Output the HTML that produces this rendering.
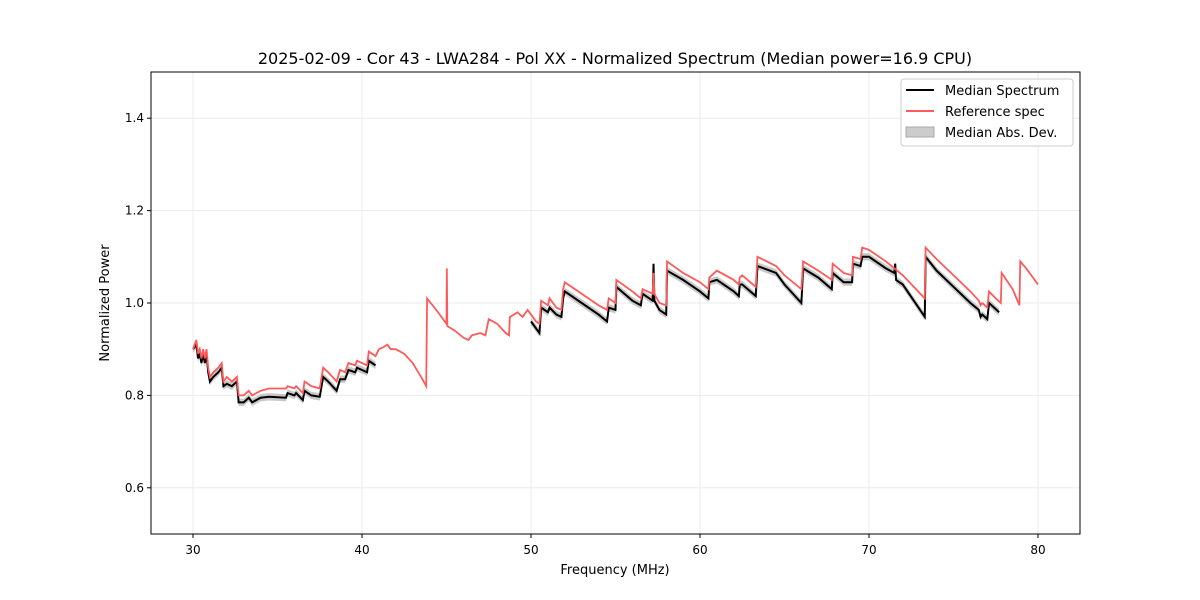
<!DOCTYPE html>
<html><head><meta charset="utf-8"><style>
body{margin:0;background:#fff;}
svg{display:block;font-family:"DejaVu Sans","Liberation Sans",sans-serif;}
</style></head><body>
<svg id="chart" width="1200" height="600">
<rect width="1200" height="600" fill="#fff"/>
<text x="615" y="64" text-anchor="middle" font-size="16">2025-02-09 - Cor 43 - LWA284 - Pol XX - Normalized Spectrum (Median power=16.9 CPU)</text>
<g id="grid"></g><g id="band"></g><g id="lines"></g><g id="ticks"></g>
<rect x="151" y="72" width="929" height="462" fill="none" stroke="#000" stroke-width="1"/>
<text x="615" y="574" text-anchor="middle" font-size="13">Frequency (MHz)</text>
<text transform="translate(109,303) rotate(-90)" text-anchor="middle" font-size="13">Normalized Power</text>
<g>
<rect x="901" y="79" width="172" height="67" rx="3" fill="#fff" stroke="#ccc"/>
<line x1="906" y1="90" x2="934" y2="90" stroke="#000" stroke-width="2"/>
<text x="945" y="95" font-size="13">Median Spectrum</text>
<line x1="906" y1="111" x2="934" y2="111" stroke="#ff5a5a" stroke-width="2"/>
<text x="945" y="116" font-size="13">Reference spec</text>
<rect x="906" y="127" width="28" height="10" fill="#ccc" stroke="#aaa"/>
<text x="945" y="137" font-size="13">Median Abs. Dev.</text>
</g>
</svg>
<script>
const xTicks=[30,40,50,60,70,80];
const yTicks=[0.6,0.8,1.0,1.2,1.4];
const refFreq=[30.0,30.2,30.3,30.4,30.5,30.6,30.7,30.8,30.9,31.0,31.2,31.5,31.7,31.8,32.0,32.3,32.6,32.7,33.0,33.3,33.5,34.0,34.5,35.5,35.6,36.0,36.1,36.5,36.6,37.0,37.5,37.7,38.0,38.5,38.7,39.0,39.2,39.6,39.7,40.0,40.3,40.4,40.8,41.0,41.3,41.5,41.7,42.0,42.5,43.0,43.5,43.8,43.85,44.5,45.0,45.02,45.05,45.5,46.0,46.3,46.5,47.0,47.3,47.5,48.0,48.5,48.7,48.75,49.0,49.2,49.5,49.8,50.0,50.3,50.5,50.6,51.0,51.1,51.5,51.8,51.9,52.0,53.0,54.0,54.5,54.6,55.0,55.05,56.0,56.5,56.6,57.2,57.25,57.3,57.6,58.0,58.05,59.0,60.0,60.5,60.55,61.0,62.0,62.3,62.35,62.5,63.3,63.4,64.5,65.0,66.0,66.1,67.0,67.8,67.85,68.5,69.0,69.05,69.5,69.6,70.0,71.0,72.0,73.3,73.35,74.0,75.0,76.0,76.5,76.6,76.7,77.0,77.1,77.5,77.8,77.85,78.5,78.9,78.95,79.3,80.0];
const refVal=[0.90,0.92,0.89,0.90,0.88,0.90,0.88,0.90,0.86,0.84,0.85,0.86,0.87,0.83,0.84,0.83,0.84,0.80,0.80,0.81,0.80,0.81,0.815,0.815,0.82,0.815,0.82,0.805,0.83,0.82,0.815,0.86,0.85,0.83,0.855,0.85,0.87,0.865,0.875,0.87,0.865,0.895,0.885,0.90,0.905,0.91,0.90,0.90,0.89,0.87,0.84,0.82,1.01,0.98,0.955,1.075,0.95,0.94,0.925,0.92,0.93,0.935,0.93,0.965,0.955,0.935,0.93,0.97,0.975,0.98,0.97,0.985,0.975,0.96,0.955,1.005,0.995,1.01,0.99,0.985,1.03,1.045,1.02,0.995,0.985,1.01,1.0,1.05,1.025,1.01,1.03,1.02,1.065,1.02,1.0,0.995,1.09,1.065,1.045,1.03,1.055,1.07,1.05,1.04,1.055,1.06,1.035,1.10,1.08,1.06,1.03,1.09,1.07,1.05,1.085,1.065,1.06,1.10,1.095,1.12,1.115,1.09,1.06,1.01,1.12,1.095,1.06,1.025,1.005,0.995,1.0,0.99,1.025,1.01,1.0,1.065,1.03,0.995,1.09,1.075,1.04];
const medFreq=[30.0,30.2,30.3,30.4,30.5,30.6,30.7,30.8,30.9,31.0,31.2,31.5,31.7,31.8,32.0,32.3,32.6,32.7,33.0,33.3,33.5,34.0,34.5,35.5,35.6,36.0,36.1,36.5,36.6,37.0,37.5,37.7,38.0,38.5,38.7,39.0,39.2,39.6,39.7,40.0,40.3,40.4,40.8,null,50.0,50.3,50.5,50.6,51.0,51.1,51.5,51.8,51.9,52.0,53.0,54.0,54.5,54.6,55.0,55.05,56.0,56.5,56.6,57.2,57.25,57.3,57.6,58.0,58.05,59.0,60.0,60.5,60.55,61.0,62.0,62.3,62.35,62.5,63.3,63.4,64.5,65.0,66.0,66.1,67.0,67.8,67.85,68.5,69.0,69.05,69.5,69.6,70.0,71.0,71.5,71.55,71.6,72.0,73.3,73.35,74.0,75.0,76.0,76.5,76.6,76.7,77.0,77.1,77.7];
const medVal=[0.90,0.91,0.88,0.89,0.87,0.89,0.87,0.89,0.85,0.83,0.84,0.85,0.86,0.82,0.825,0.82,0.83,0.785,0.785,0.795,0.785,0.795,0.797,0.795,0.805,0.80,0.805,0.79,0.81,0.80,0.797,0.84,0.83,0.81,0.835,0.835,0.855,0.85,0.86,0.855,0.85,0.875,0.865,null,0.96,0.945,0.935,0.99,0.98,0.99,0.975,0.97,1.01,1.025,1.0,0.975,0.96,0.99,0.985,1.035,1.005,0.995,1.02,1.005,1.085,1.005,0.985,0.975,1.07,1.05,1.025,1.01,1.045,1.05,1.025,1.015,1.04,1.04,1.015,1.08,1.065,1.04,1.0,1.075,1.055,1.03,1.065,1.045,1.045,1.085,1.08,1.10,1.10,1.075,1.065,1.085,1.05,1.04,0.97,1.10,1.07,1.035,1.0,0.985,0.97,0.975,0.965,1.0,0.98];
const madVal=0.008;
const X=f=>193+(f-30)*16.9;
const Y=v=>534-(v-0.5)*462;
const NS="http://www.w3.org/2000/svg";
function mk(tag,attrs,parent){const e=document.createElementNS(NS,tag);for(const k in attrs)e.setAttribute(k,attrs[k]);parent.appendChild(e);return e;}
const grid=document.getElementById('grid'),ticks=document.getElementById('ticks');
xTicks.forEach(t=>{
 const g=mk('line',{x1:X(t),x2:X(t),y1:72,y2:534,stroke:'#ebebeb','stroke-width':1},grid);
 
 
 mk('line',{x1:X(t),x2:X(t),y1:534,y2:538,stroke:'#000'},ticks);
 const tx=mk('text',{x:X(t),y:554,'text-anchor':'middle','font-size':12},ticks);
 tx.textContent=t;
 
 
});
yTicks.forEach(t=>{
 const g=mk('line',{x1:151,x2:1080,y1:Y(t),y2:Y(t),stroke:'#ebebeb','stroke-width':1},grid);
 
 
 mk('line',{x1:147,x2:151,y1:Y(t),y2:Y(t),stroke:'#000'},ticks);
 const tx=mk('text',{x:144,y:Y(t)+4,'text-anchor':'end','font-size':12},ticks);
 tx.textContent=t.toFixed(1);
 
 
});
let segs=[[]];
medFreq.forEach((f,i)=>{if(f===null)segs.push([]);else segs[segs.length-1].push([f,medVal[i]]);});
const band=document.getElementById('band');
segs.forEach(s=>{
 const top=s.map(p=>X(p[0])+','+Y(p[1]+madVal)).join(' ');
 const bot=s.slice().reverse().map(p=>X(p[0])+','+Y(p[1]-madVal)).join(' ');
 const pg=mk('polygon',{points:top+' '+bot,fill:'#bbb','fill-opacity':0.8},band);
 
 
});
const lines=document.getElementById('lines');
segs.forEach(s=>{
 const pl=mk('polyline',{points:s.map(p=>X(p[0])+','+Y(p[1])).join(' '),fill:'none',stroke:'#000','stroke-width':2},lines);
 
 
});
const rl=mk('polyline',{points:refFreq.map((f,i)=>X(f)+','+Y(refVal[i])).join(' '),fill:'none',stroke:'#ff5a5a','stroke-width':1.8},lines);


</script>
</body></html>
